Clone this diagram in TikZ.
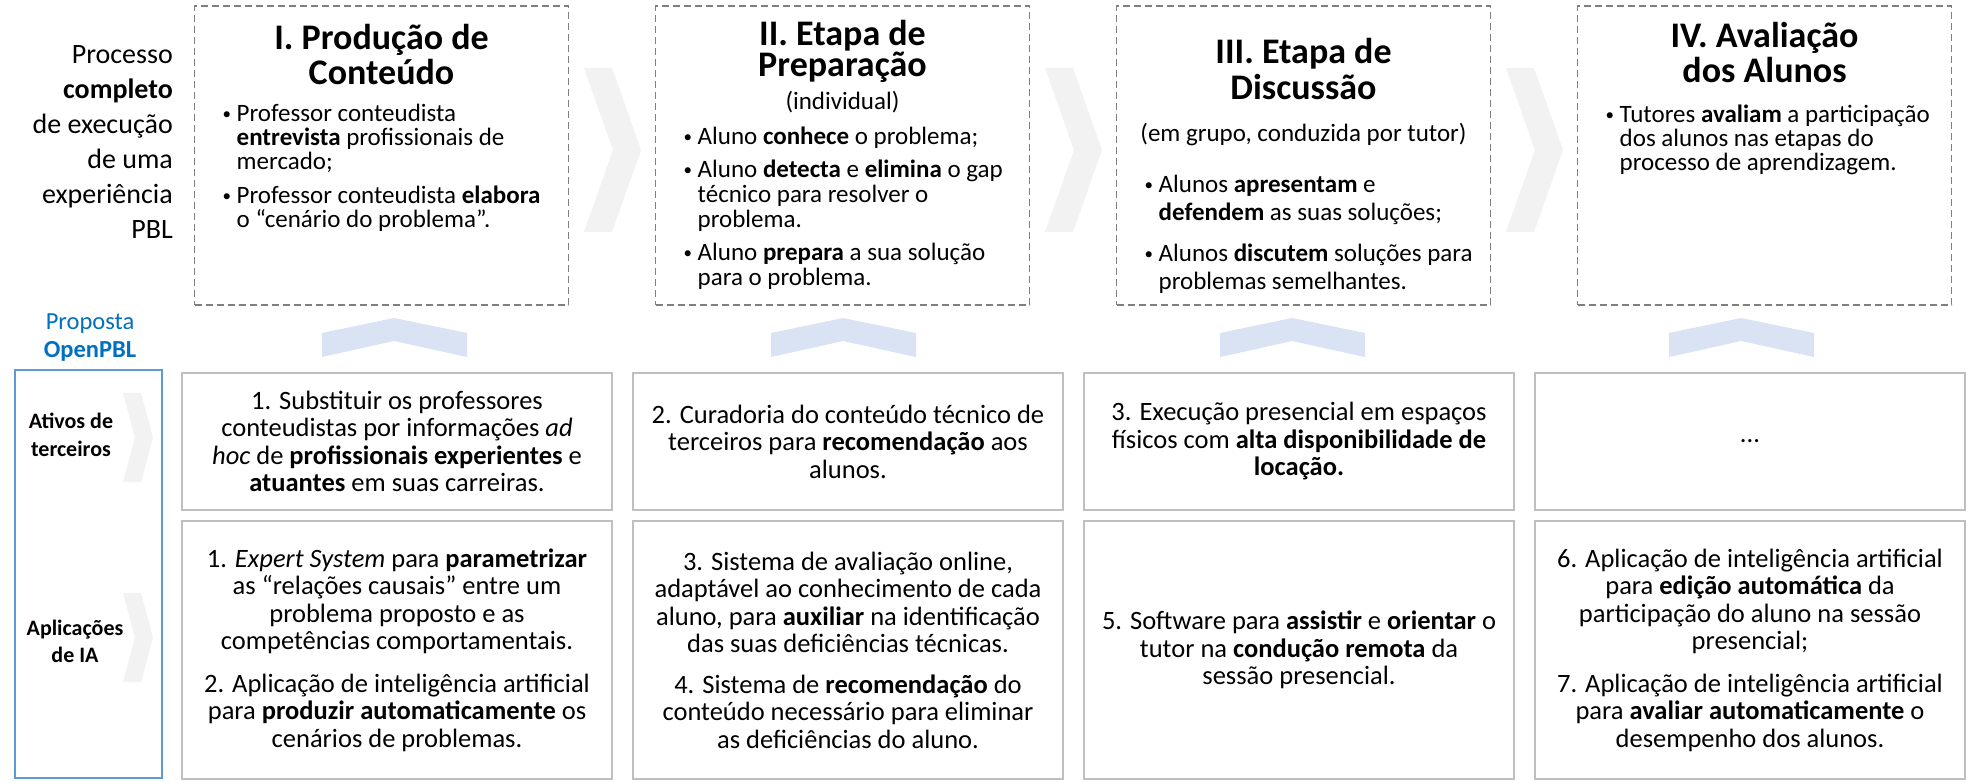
\documentclass[tikz,border=0pt]{standalone}
\usepackage{fontspec}
\setmainfont{Carlito}
\usepackage{xcolor}
\definecolor{PblDash}{HTML}{7F7F7F}
\definecolor{PblFrame}{HTML}{BFBFBF}
\definecolor{PblBlue}{HTML}{5B9BD5}
\definecolor{PblBlueText}{HTML}{0070C0}
\definecolor{PblChevron}{HTML}{F2F2F2}
\definecolor{PblUp}{HTML}{DAE3F3}
\usepackage{tikz}
\usetikzlibrary{positioning,calc}
\newcommand{\stagebullet}{\hbox to 14pt{\raisebox{2.5pt}{\fontsize{17}{17}\selectfont\textbullet}\hfil}}
\newcommand{\stageitem}[1]{\hangindent=14pt\hangafter=1\noindent\stagebullet#1\par}
\tikzset{
  stagebox/.style={draw=PblDash,line width=1.8pt,dash pattern=on 7pt off 4pt,minimum width=374pt,minimum height=299pt,inner sep=0pt,outer sep=0pt},
  stagetitle/.style={text width=370pt,align=flush center,inner sep=0pt,anchor=base,font=\fontsize{36}{35}\selectfont\bfseries},
  stagesub/.style={text width=370pt,align=flush center,inner sep=0pt,anchor=base,font=\fontsize{25}{25}\selectfont},
  stagelist/.style={text width=345pt,align=flush left,inner sep=0pt,anchor=base west,font=\fontsize{25}{24}\selectfont},
  pblbox/.style={draw=PblFrame,line width=2pt,minimum width=430pt,inner sep=0pt,outer sep=0pt,align=center,font=\fontsize{26.5}{27.5}\selectfont},
  assetbox/.style={pblbox,minimum height=137pt},
  aibox/.style={pblbox,minimum height=258pt},
  proposalbox/.style={draw=PblBlue,line width=2pt,minimum width=147pt,minimum height=408pt,inner sep=0pt,outer sep=0pt},
  sidetext/.style={text width=170pt,align=flush right,inner sep=0pt,anchor=base east,font=\fontsize{28}{35}\selectfont},
  proposaltext/.style={text width=140pt,align=flush center,inner sep=0pt,anchor=base,text=PblBlueText,font=\fontsize{24.5}{28}\selectfont},
  rowlabel/.style={text width=120pt,align=flush center,inner sep=0pt,anchor=base,font=\fontsize{22}{28}\selectfont\bfseries}
}

\begin{document}
\begin{tikzpicture}[x=1pt,y=-1pt]
  \fill[white] (0,0) rectangle (1974,783);
  \useasboundingbox (0,0) rectangle (1974,783);
  % chevrons between the stages
  \foreach \cx in {584,1045,1506}
    \fill[PblChevron] (\cx,68) -- ({\cx+28},68) -- ({\cx+57},150) -- ({\cx+28},232) -- (\cx,232) -- ({\cx+29},150) -- cycle;
  \foreach \cy in {437.5,637.5}
    \fill[PblChevron] (123,{\cy-44.5}) -- (141,{\cy-44.5}) -- (153,\cy) -- (141,{\cy+44.5}) -- (123,{\cy+44.5}) -- (135,\cy) -- cycle;
  \foreach \cx in {394,843,1292,1741}
    \fill[PblUp] ({\cx-72},357) -- ({\cx-72},333) -- (\cx,318) -- ({\cx+73},333) -- ({\cx+73},357) -- (\cx,341) -- cycle;

  % process stages
  \node[stagebox] (stage1) at (381.5,155.5) {};
  \node[stagebox,right=87pt of stage1] (stage2) {};
  \node[stagebox,right=87pt of stage2] (stage3) {};
  \node[stagebox,right=87pt of stage3] (stage4) {};

  \node[stagetitle] (title1) at ($(stage1.north)+(0,44)$) {I. Produção de\\Conteúdo};
  \node[stagetitle,font=\fontsize{36}{31}\selectfont\bfseries] (title2) at ($(stage2.north)+(0,40)$) {II. Etapa de\\Preparação};
  \node[stagesub] (sub2) at ($(stage2.north)+(0,104)$) {(individual)};
  \node[stagetitle,font=\fontsize{36}{36}\selectfont\bfseries] (title3) at ($(stage3.north)+(0,58)$) {III. Etapa de\\Discussão};
  \node[stagesub] (sub3) at ($(stage3.north)+(0,136)$) {(em grupo, conduzida por tutor)};
  \node[stagetitle] (title4) at ($(stage4.north)+(0,42)$) {IV. Avaliação\\dos Alunos};

  \node[stagelist] (list1) at ($(stage1.north west)+(28,116)$) {%
    \stageitem{Professor conteudista\newline\textbf{entrevista} profissionais de\newline mercado;}\vspace{10pt}%
    \stageitem{Professor conteudista \textbf{elabora}\newline o “cenário do problema”.}};
  \node[stagelist,font=\fontsize{25}{25}\selectfont] (list2) at ($(stage2.north west)+(28,139)$) {%
    \stageitem{Aluno \textbf{conhece} o problema;}\vspace{8pt}%
    \stageitem{Aluno \textbf{detecta} e \textbf{elimina} o gap\newline técnico para resolver o\newline problema.}\vspace{8pt}%
    \stageitem{Aluno \textbf{prepara} a sua solução\newline para o problema.}};
  \node[stagelist,font=\fontsize{25}{28}\selectfont] (list3) at ($(stage3.north west)+(28,187)$) {%
    \stageitem{Alunos \textbf{apresentam} e\newline\textbf{defendem} as suas soluções;}\vspace{13pt}%
    \stageitem{Alunos \textbf{discutem} soluções para\newline problemas semelhantes.}};
  \node[stagelist] (list4) at ($(stage4.north west)+(28,117)$) {%
    \stageitem{Tutores \textbf{avaliam} a participação\newline dos alunos nas etapas do\newline processo de aprendizagem.}};

  % left column
  \node[sidetext] (process) at (173,64) {Processo\\\textbf{completo}\\de execução\\de uma\\experiência\\PBL};
  \node[proposaltext] (proposta) at (90,330) {Proposta\\\textbf{OpenPBL}};
  \node[proposalbox] (proposal) at (88.5,574) {};
  \node[rowlabel] (assetlabel) at (71,429) {Ativos de\\terceiros};
  \node[rowlabel,font=\fontsize{22}{27}\selectfont\bfseries] (ailabel) at (75,635) {Aplicações\\de IA};

  % proposal rows
  \node[assetbox] (asset1) at (397,441.5) {1. Substituir os professores\\conteudistas por informações \textit{ad}\\\textit{hoc} de \textbf{profissionais experientes} e\\\textbf{atuantes} em suas carreiras.};
  \node[assetbox,right=21pt of asset1] (asset2) {2. Curadoria do conteúdo técnico de\\terceiros para \textbf{recomendação} aos\\alunos.};
  \node[assetbox,right=21pt of asset2] (asset3) {3. Execução presencial em espaços\\físicos com \textbf{alta disponibilidade de}\\\textbf{locação.}};
  \node[assetbox,right=21pt of asset3] (asset4) {...};

  \node[aibox,below=11pt of asset1] (ai1) {1. \textit{Expert System} para \textbf{parametrizar}\\as “relações causais” entre um\\problema proposto e as\\competências comportamentais.\\[15pt]2. Aplicação de inteligência artificial\\para \textbf{produzir automaticamente} os\\cenários de problemas.};
  \node[aibox,below=11pt of asset2] (ai2) {3. Sistema de avaliação online,\\adaptável ao conhecimento de cada\\aluno, para \textbf{auxiliar} na identificação\\das suas deficiências técnicas.\\[13pt]4. Sistema de \textbf{recomendação} do\\conteúdo necessário para eliminar\\as deficiências do aluno.};
  \node[aibox,below=11pt of asset3] (ai3) {5. Software para \textbf{assistir} e \textbf{orientar} o\\tutor na \textbf{condução remota} da\\sessão presencial.};
  \node[aibox,below=11pt of asset4] (ai4) {6. Aplicação de inteligência artificial\\para \textbf{edição automática} da\\participação do aluno na sessão\\presencial;\\[15pt]7. Aplicação de inteligência artificial\\para \textbf{avaliar automaticamente} o\\desempenho dos alunos.};
\end{tikzpicture}
\end{document}
